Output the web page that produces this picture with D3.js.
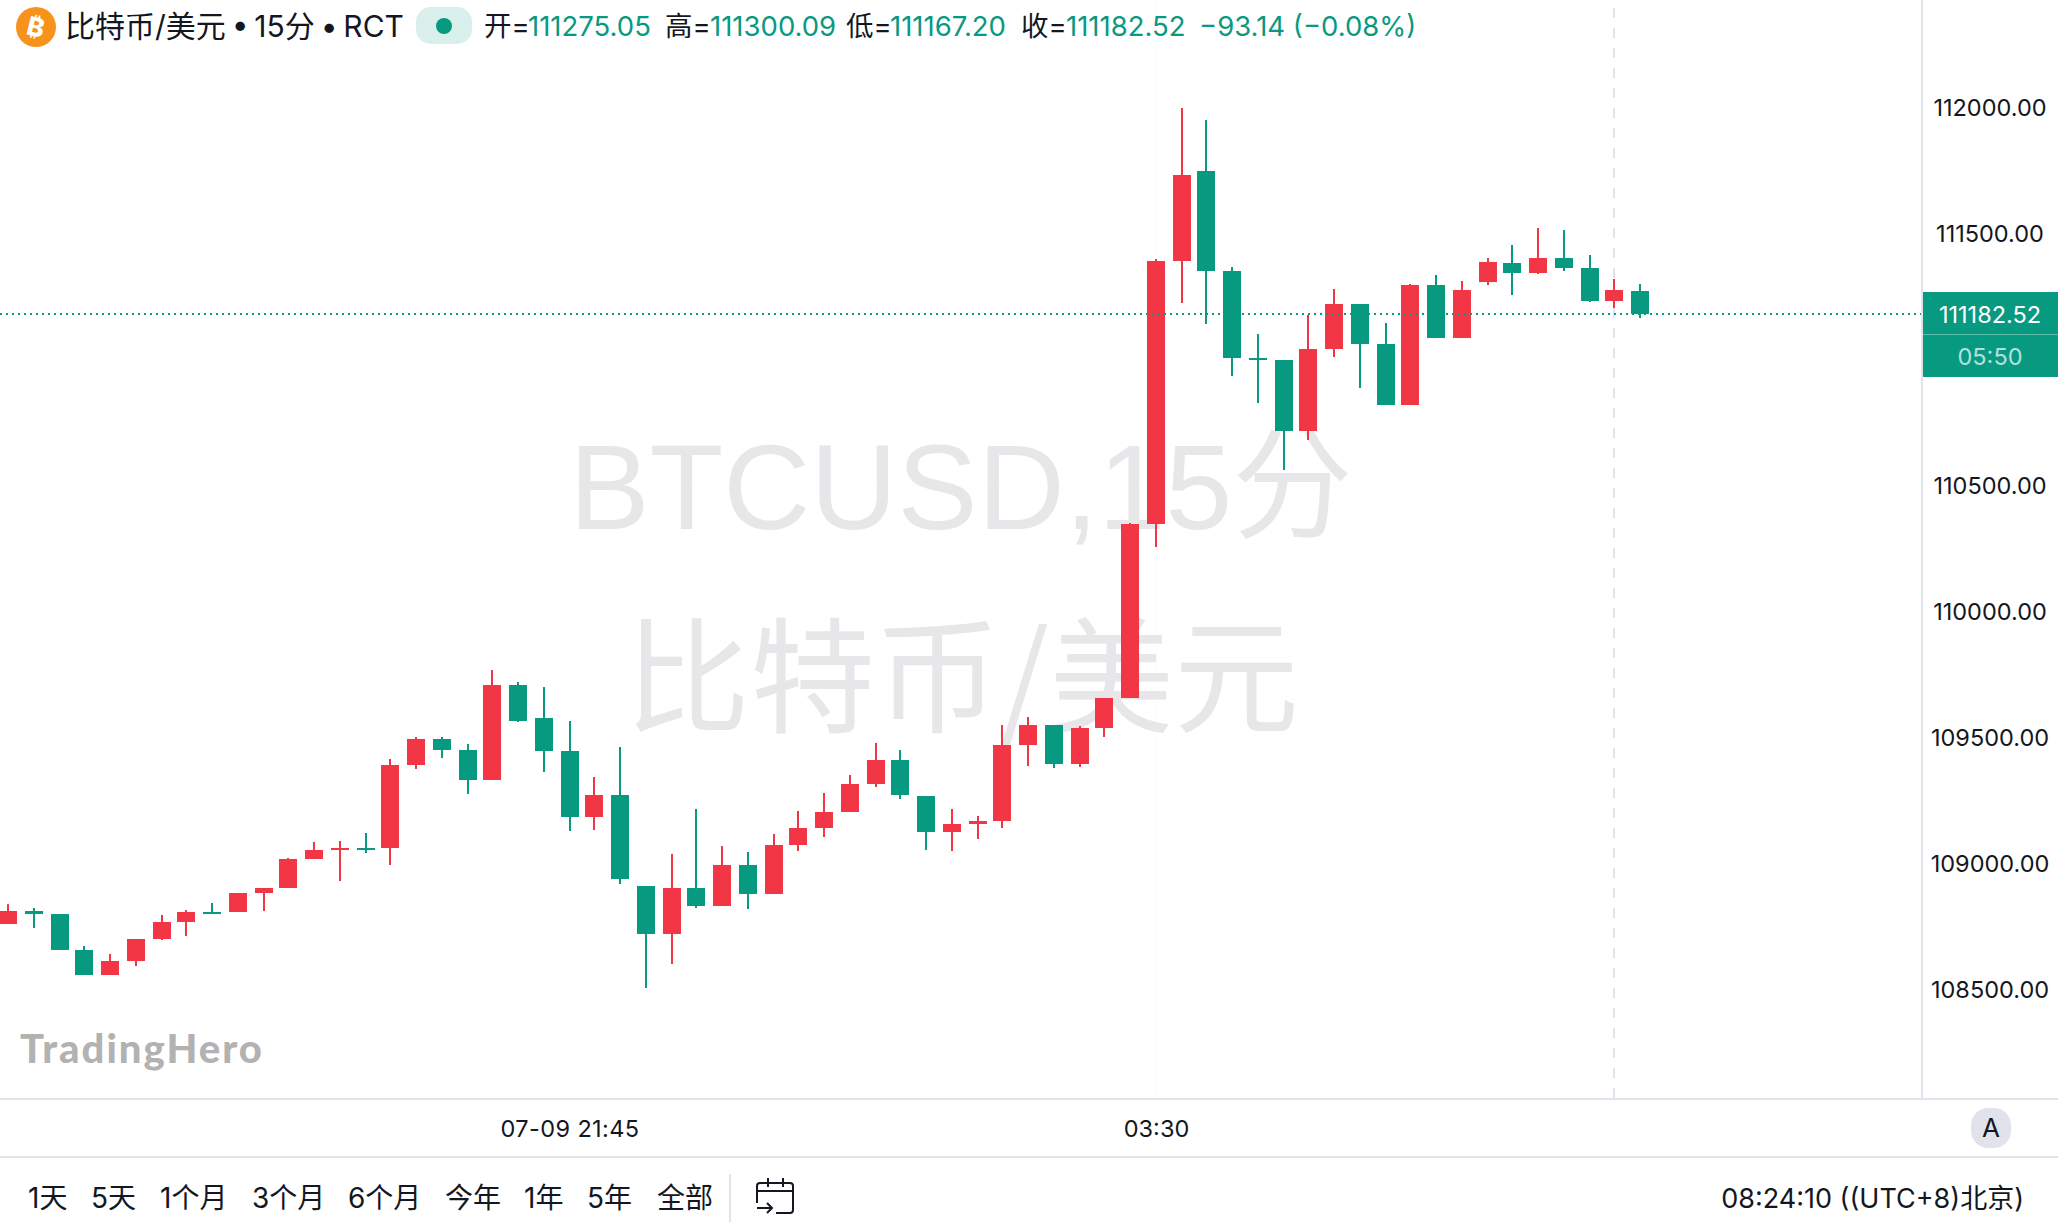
<!DOCTYPE html>
<html>
<head>
<meta charset="utf-8">
<script src="https://cdn.jsdelivr.net/npm/d3@7"></script>
<style>
  html, body { margin: 0; padding: 0; background: #fff; overflow: hidden; }
  text { font-family: Inter, "Noto Sans CJK SC", sans-serif; fill: #131722; }
</style>
</head>
<body>
<svg id="chart" width="2058" height="1228"></svg>
<script>
const times = [
    "16:15", "16:30", "16:45", "17:00", "17:15", "17:30", "17:45", "18:00", "18:15", "18:30",
    "18:45", "19:00", "19:15", "19:30", "19:45", "20:00", "20:15", "20:30", "20:45", "21:00",
    "21:15", "21:30", "21:45", "22:00", "22:15", "22:30", "22:45", "23:00", "23:15", "23:30",
    "23:45", "00:00", "00:15", "00:30", "00:45", "01:00", "01:15", "01:30", "01:45", "02:00",
    "02:15", "02:30", "02:45", "03:00", "03:15", "03:30", "03:45", "04:00", "04:15", "04:30",
    "04:45", "05:00", "05:15", "05:30", "05:45", "06:00", "06:15", "06:30", "06:45", "07:00",
    "07:15", "07:30", "07:45", "08:00", "08:15"
];
const opens = [
    108762, 108814, 108802, 108659, 108560, 108615, 108703, 108770, 108810, 108810,
    108885, 108905, 109020, 109056, 109064, 109064, 109393, 109496, 109452, 109333,
    109710, 109580, 109449, 109187, 109274, 108913, 108722, 108905, 108834, 108996,
    108881, 109076, 109143, 109207, 109318, 109413, 109270, 109127, 109159, 109171,
    109472, 109552, 109397, 109540, 109659, 110349, 111393, 111750, 111353, 111008,
    111000, 110718, 111044, 111222, 111064, 110822, 111298, 111087, 111310, 111385,
    111345, 111405, 111365, 111234, 111275.05
];
const highs = [
    108841, 108825, 108802, 108675, 108643, 108703, 108798, 108818, 108845, 108885,
    108905, 109024, 109087, 109091, 109123, 109417, 109504, 109504, 109476, 109770,
    109722, 109703, 109568, 109345, 109464, 108913, 109040, 109218, 109072, 109048,
    109119, 109211, 109282, 109353, 109480, 109452, 109270, 109218, 109191, 109552,
    109584, 109552, 109548, 109659, 110353, 111401, 112000, 111952, 111369, 111103,
    111000, 111179, 111282, 111222, 111147, 111302, 111337, 111314, 111405, 111456,
    111524, 111516, 111417, 111322, 111300.09
];
const lows = [
    108762, 108746, 108659, 108560, 108560, 108595, 108699, 108714, 108802, 108810,
    108814, 108905, 109020, 108933, 109044, 108996, 109377, 109421, 109278, 109333,
    109564, 109365, 109131, 109135, 108921, 108508, 108603, 108825, 108834, 108822,
    108881, 109052, 109107, 109207, 109306, 109258, 109056, 109052, 109099, 109143,
    109389, 109381, 109385, 109504, 109659, 110258, 111226, 111143, 110937, 110829,
    110564, 110683, 111012, 110889, 110822, 110822, 111087, 111087, 111298, 111258,
    111341, 111353, 111230, 111207, 111167.20
];
const closes = [
    108814, 108802, 108659, 108560, 108615, 108703, 108770, 108810, 108802, 108885,
    108905, 109020, 109056, 109064, 109056, 109393, 109496, 109452, 109333, 109710,
    109568, 109449, 109187, 109274, 108941, 108722, 108905, 108834, 108996, 108881,
    109076, 109143, 109207, 109318, 109413, 109274, 109127, 109159, 109171, 109472,
    109552, 109397, 109540, 109659, 110349, 111393, 111734, 111353, 111008, 111000,
    110718, 111044, 111222, 111064, 110822, 111298, 111087, 111278, 111389, 111345,
    111405, 111365, 111234, 111278, 111182.52
];
// 111000 sits behind the last price tag on the original, so it has no label
const priceTicks = [112000, 111500, 110500, 110000, 109500, 109000, 108500];
const timeTicks = ["21:45", "03:30"];
const timeTickLabels = ["07-09 21:45", "03:30"];
const ranges = ["1天", "5天", "1个月", "3个月", "6个月", "今年", "1年", "5年", "全部"];
const rangeLefts = [28, 91, 160, 252, 348, 445, 524, 587, 657];

const upColor = "#f23645";
const downColor = "#089981";
const borderColor = "#e0e3eb";
const paneRight = 1922;
const paneBottom = 1099;

const svg = d3.select("#chart");
const xScale = d3.scalePoint().domain(times).range([8.5, 1640.5]);
const yScale = d3.scaleLinear().domain([108500, 112000]).range([990, 108]);
// wicks are 2px wide so candle centers land on even pixels
const candleX = (t) => 2 * Math.ceil(xScale(t) / 2 - 0.5);

// very faint grid, hardly visible on the original
const gridGroup = svg.append("g").attr("stroke", "#fcfcfd").attr("stroke-width", 1);
priceTicks.forEach(d => {
    gridGroup.append("line").attr("x1", 0).attr("x2", paneRight)
        .attr("y1", yScale(d)).attr("y2", yScale(d));
});
timeTicks.forEach(d => {
    gridGroup.append("line").attr("x1", candleX(d)).attr("x2", candleX(d))
        .attr("y1", 0).attr("y2", paneBottom);
});

// watermark
const watermark = svg.append("g");
watermark.append("text")
    .attr("x", 961).attr("y", 529)
    .attr("text-anchor", "middle")
    .style("font-family", '"Liberation Sans", "Noto Sans CJK SC", sans-serif')
    .style("font-size", "120.5px")
    .style("fill", "#e7e7e9")
    .text("BTCUSD,15分");
watermark.append("text")
    .attr("x", 962).attr("y", 723)
    .attr("text-anchor", "middle")
    .style("font-family", '"Noto Sans CJK SC", sans-serif')
    .style("font-size", "125px")
    .style("fill", "#e7e7e9")
    .text("比特币/美元");

// logo
svg.append("text")
    .attr("x", 20).attr("y", 1063)
    .style("font-family", "Lato, sans-serif")
    .style("font-weight", 900)
    .style("font-size", "40px")
    .style("letter-spacing", "2px")
    .style("fill", "#b2b2b2")
    .text("TradingHero");

// crosshair over the candle of 08:00
svg.append("line")
    .attr("x1", candleX("08:00")).attr("x2", candleX("08:00"))
    .attr("y1", 8).attr("y2", paneBottom)
    .attr("stroke", borderColor)
    .attr("stroke-width", 2)
    .attr("stroke-dasharray", "10 10");

// candles
const candles = times.map((t, i) => ({ t, o: opens[i], h: highs[i], l: lows[i], c: closes[i] }));
const candleGroup = svg.append("g").attr("shape-rendering", "crispEdges");
candleGroup.selectAll("rect.wick")
    .data(candles)
    .enter()
    .append("rect")
    .attr("class", "wick")
    .attr("x", d => candleX(d.t) - 1)
    .attr("width", 2)
    .attr("y", d => yScale(d.h))
    .attr("height", d => yScale(d.l) - yScale(d.h))
    .attr("fill", d => d.c >= d.o ? upColor : downColor);
candleGroup.selectAll("rect.body")
    .data(candles)
    .enter()
    .append("rect")
    .attr("class", "body")
    .attr("x", d => candleX(d.t) - 9)
    .attr("width", 18)
    .attr("y", d => yScale(Math.max(d.o, d.c)))
    .attr("height", d => Math.max(2, Math.abs(yScale(d.o) - yScale(d.c))))
    .attr("fill", d => d.c >= d.o ? upColor : downColor);

// last price line
const lastClose = closes[closes.length - 1];
svg.append("line")
    .attr("x1", 0).attr("x2", paneRight)
    .attr("y1", yScale(lastClose)).attr("y2", yScale(lastClose))
    .attr("stroke", downColor)
    .attr("stroke-width", 2)
    .attr("stroke-dasharray", "2 4");

// borders
const borders = svg.append("g").attr("stroke", borderColor).attr("stroke-width", 2);
borders.append("line").attr("x1", paneRight).attr("x2", paneRight).attr("y1", 0).attr("y2", paneBottom);
borders.append("line").attr("x1", 0).attr("x2", 2058).attr("y1", paneBottom).attr("y2", paneBottom);
borders.append("line").attr("x1", 0).attr("x2", 2058).attr("y1", 1157).attr("y2", 1157);
borders.append("line").attr("x1", 730).attr("x2", 730).attr("y1", 1174).attr("y2", 1222);

// price axis
const yAxis = d3.axisRight(yScale).tickValues(priceTicks).tickSize(0).tickFormat(d3.format(".2f"));
const yAxisGroup = svg.append("g").attr("transform", "translate(1990,0)").call(yAxis);
yAxisGroup.select(".domain").remove();
yAxisGroup.selectAll("text")
    .attr("x", 0)
    .attr("dy", "0.33em")
    .attr("text-anchor", "middle")
    .style("font-size", "23.5px");

// time axis
const xAxis = d3.axisBottom(xScale).tickValues(timeTicks).tickSize(0)
    .tickFormat(d => timeTickLabels[timeTicks.indexOf(d)]);
const xAxisGroup = svg.append("g").attr("transform", "translate(0,1129)").call(xAxis);
xAxisGroup.select(".domain").remove();
xAxisGroup.selectAll("text")
    .attr("y", 0)
    .attr("dy", "0.36em")
    .style("font-size", "23.5px")
    .style("letter-spacing", d => d === "21:45" ? "0.4px" : null);

// last price tag
svg.append("rect").attr("x", 1923).attr("y", 292).attr("width", 135).attr("height", 85).attr("fill", downColor);
svg.append("line").attr("x1", 1923).attr("x2", 2058).attr("y1", 334.5).attr("y2", 334.5)
    .attr("stroke", "#5dbdab").attr("stroke-width", 1);
svg.append("text").attr("x", 1990).attr("y", 315).attr("dy", "0.36em")
    .attr("text-anchor", "middle")
    .style("font-size", "23.5px").style("fill", "#fff")
    .text(d3.format(".2f")(lastClose));
svg.append("text").attr("x", 1990).attr("y", 357).attr("dy", "0.36em")
    .attr("text-anchor", "middle")
    .style("font-size", "23.5px").style("fill", "#b5e0d8")
    .text("05:50");

// header
const header = svg.append("g");
header.append("circle").attr("cx", 36).attr("cy", 27).attr("r", 20).attr("fill", "#f7931a");
header.append("text")
    .attr("x", 36).attr("y", 27).attr("dy", "0.36em")
    .attr("text-anchor", "middle")
    .attr("transform", "rotate(14 36 27)")
    .style("font-size", "26px").style("font-weight", 800).style("fill", "#fff")
    .text("₿");
header.append("text").attr("x", 65).attr("y", 26).attr("dy", "0.36em")
    .style("font-size", "30px")
    .style("word-spacing", "-2.6px")
    .text("比特币/美元 • 15分 • RCT");
header.append("rect").attr("x", 416).attr("y", 7).attr("width", 56).attr("height", 37).attr("rx", 15)
    .attr("fill", "#d8efeb");
header.append("circle").attr("cx", 444).attr("cy", 26).attr("r", 8).attr("fill", downColor);

const legendLabel = (x, s) => header.append("text").attr("x", x).attr("y", 26).attr("dy", "0.36em")
    .style("font-size", "27.5px").text(s);
const legendValue = (x, s) => header.append("text").attr("x", x).attr("y", 26).attr("dy", "0.36em")
    .style("font-size", "27.5px").style("fill", downColor).text(s);
legendLabel(484, "开=");
legendValue(528, d3.format(".2f")(opens[64]));
legendLabel(665, "高=");
legendValue(710, d3.format(".2f")(highs[64]));
legendLabel(846, "低=");
legendValue(890, d3.format(".2f")(lows[64]));
legendLabel(1021, "收=");
legendValue(1066, d3.format(".2f")(closes[64]));
legendValue(1199, "−93.14 (−0.08%)");

// auto scale button
svg.append("rect").attr("x", 1971).attr("y", 1108).attr("width", 40).attr("height", 40).attr("rx", 17)
    .attr("fill", borderColor);
svg.append("text").attr("x", 1991).attr("y", 1128).attr("dy", "0.36em")
    .attr("text-anchor", "middle")
    .style("font-size", "26px")
    .text("A");

// bottom toolbar
svg.append("g").selectAll("text")
    .data(ranges)
    .enter()
    .append("text")
    .attr("x", (d, i) => rangeLefts[i])
    .attr("y", 1198)
    .attr("dy", "0.36em")
    .style("font-size", "28px")
    .text(d => d);

// calendar icon
svg.append("path")
    .attr("d", "M757 1203V1186a3 3 0 0 1 3-3H790a3 3 0 0 1 3 3V1210a3 3 0 0 1-3 3H776M757 1191H793M768 1178V1187M783 1178V1187M757 1208H772M767 1203L772 1208L767 1213")
    .attr("fill", "none")
    .attr("stroke", "#131722")
    .attr("stroke-width", 2);

svg.append("text").attr("x", 2024).attr("y", 1198).attr("dy", "0.36em")
    .attr("text-anchor", "end")
    .style("font-size", "27px")
    .text("08:24:10 ((UTC+8)北京)");
</script>
</body>
</html>
